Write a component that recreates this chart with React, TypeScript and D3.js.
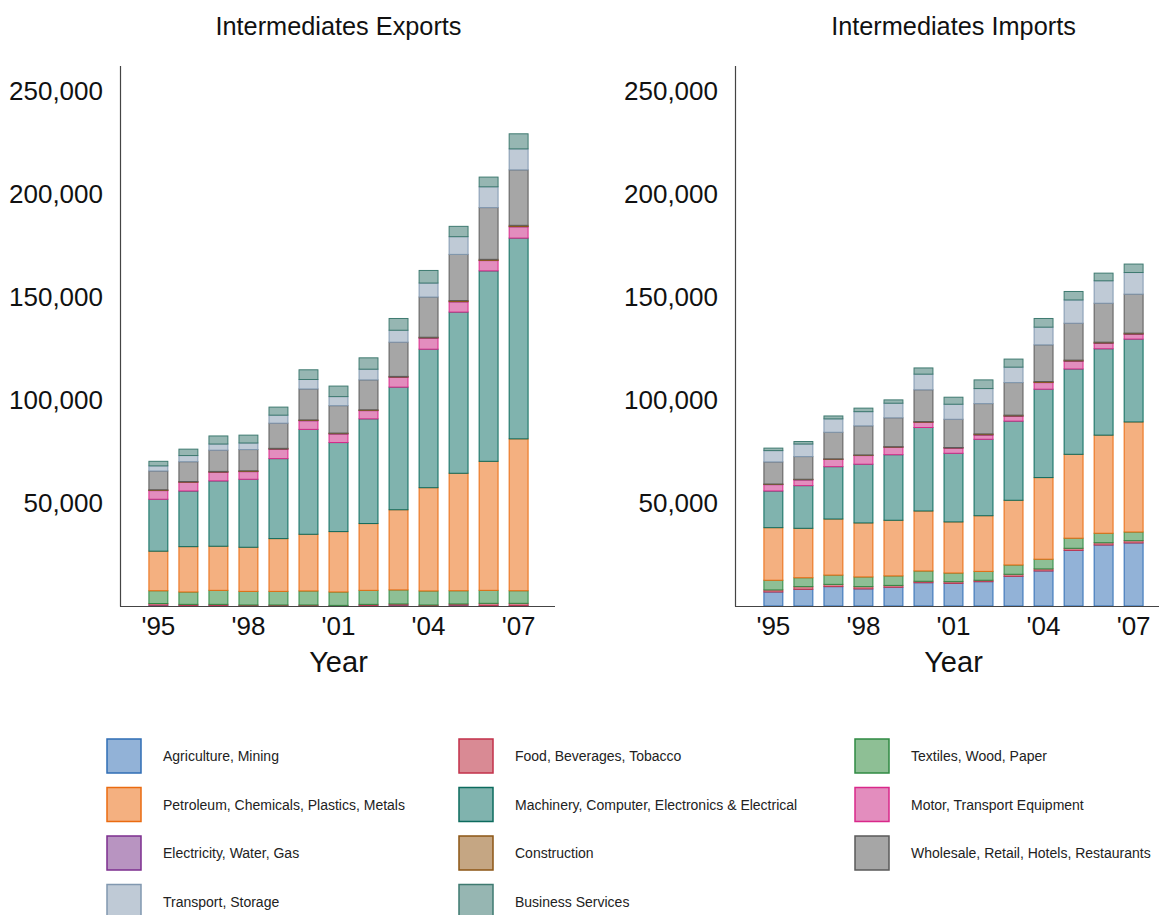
import * as d3 from 'd3'

const W = 1159
const H = 915

const YEARS = [1995, 1996, 1997, 1998, 1999, 2000, 2001, 2002, 2003, 2004, 2005, 2006, 2007]
const X_TICKS = [1995, 1998, 2001, 2004, 2007]
const Y_TICKS = [50, 100, 150, 200, 250] // thousands

const SECTORS = [
  'Agriculture, Mining',
  'Food, Beverages, Tobacco',
  'Textiles, Wood, Paper',
  'Petroleum, Chemicals, Plastics, Metals',
  'Machinery, Computer, Electronics & Electrical',
  'Motor, Transport Equipment',
  'Electricity, Water, Gas',
  'Construction',
  'Wholesale, Retail, Hotels, Restaurants',
  'Transport, Storage',
  'Business Services',
]
const FILLS = ['#92b2d7', '#d98a94', '#8ebf95', '#f4b080', '#80b3ae', '#e38dbe', '#b894c1', '#c5a683', '#a6a6a6', '#bfcad6', '#96b6b2']
const STROKES = ['#2f6db5', '#c2304a', '#2f8a43', '#ea6b10', '#0c6b5e', '#d9288a', '#7c2e8f', '#8c5514', '#5a5a5a', '#8198b0', '#3e7a70']

// exports, thousands
const expAgriculture = [0.4, 0.3, 0.3, 0.2, 0.2, 0.2, 0.1, 0.3, 0.4, 0.2, 0.4, 0.3, 0.3]
const expFood = [0.8, 0.5, 0.5, 0.3, 0.3, 0.3, 0.2, 0.5, 0.6, 0.3, 0.6, 1.0, 1.0]
const expTextiles = [6.2, 6.0, 6.8, 6.6, 6.6, 6.8, 6.5, 6.8, 6.8, 6.8, 6.4, 6.3, 6.1]
const expPetroleum = [19.2, 22.0, 21.4, 21.4, 25.6, 27.5, 29.3, 32.4, 38.9, 50.1, 57.0, 62.6, 73.7]
const expMachinery = [25.2, 27.0, 31.7, 33.0, 38.8, 50.9, 43.2, 50.8, 59.5, 67.2, 78.2, 92.4, 97.4]
const expMotor = [4.2, 4.2, 4.2, 3.7, 4.6, 4.2, 4.2, 4.0, 4.8, 5.4, 5.0, 5.0, 5.5]
const expElectricity = [0.1, 0.1, 0.1, 0.1, 0.1, 0.1, 0.1, 0.1, 0.1, 0.1, 0.1, 0.1, 0.1]
const expConstruction = [0.3, 0.3, 0.3, 0.3, 0.3, 0.3, 0.3, 0.3, 0.3, 0.3, 0.5, 0.5, 0.6]
const expWholesale = [9.1, 9.6, 10.3, 10.3, 12.2, 15.0, 13.3, 14.5, 16.6, 19.5, 22.4, 25.1, 26.9]
const expTransport = [2.5, 3.0, 3.0, 3.2, 3.9, 4.6, 4.4, 5.2, 5.8, 6.8, 8.6, 10.1, 10.2]
const expBusiness = [2.2, 3.1, 3.9, 3.8, 3.9, 4.7, 5.1, 5.5, 5.7, 6.1, 5.0, 4.7, 7.3]

// imports, thousands
const impAgriculture = [6.8, 8.1, 9.4, 8.3, 9.1, 11.3, 11.0, 11.8, 14.4, 17.0, 27.0, 29.6, 30.6]
const impFood = [1.0, 1.3, 1.1, 1.1, 0.9, 0.7, 0.8, 0.7, 1.0, 1.0, 1.0, 1.1, 1.1]
const impTextiles = [4.7, 4.3, 4.5, 4.7, 4.6, 5.0, 4.2, 4.3, 4.5, 4.7, 4.9, 4.6, 4.2]
const impPetroleum = [25.5, 24.0, 27.2, 26.2, 27.0, 29.1, 24.8, 27.0, 31.4, 39.6, 40.7, 47.6, 53.4]
const impMachinery = [17.8, 20.7, 25.4, 28.5, 31.8, 40.5, 33.3, 37.1, 38.4, 42.9, 41.4, 41.9, 40.2]
const impMotor = [3.1, 2.8, 3.5, 4.2, 3.6, 2.5, 2.5, 2.1, 2.4, 3.2, 3.8, 2.7, 2.4]
const impElectricity = [0.1, 0.1, 0.1, 0.1, 0.1, 0.1, 0.1, 0.1, 0.1, 0.1, 0.1, 0.1, 0.1]
const impConstruction = [0.2, 0.2, 0.2, 0.2, 0.2, 0.3, 0.2, 0.4, 0.4, 0.4, 0.4, 0.4, 0.4]
const impWholesale = [10.7, 11.0, 12.9, 14.1, 14.0, 15.4, 13.7, 14.7, 15.8, 17.8, 17.9, 18.9, 18.9]
const impTransport = [5.5, 6.1, 6.5, 6.9, 7.1, 7.6, 7.3, 7.3, 7.5, 8.6, 11.3, 10.9, 10.5]
const impBusiness = [1.2, 1.2, 1.4, 1.7, 1.6, 3.0, 3.4, 4.2, 3.9, 4.2, 4.1, 3.7, 4.1]

const EXPORTS = [expAgriculture, expFood, expTextiles, expPetroleum, expMachinery, expMotor,
  expElectricity, expConstruction, expWholesale, expTransport, expBusiness]
const IMPORTS = [impAgriculture, impFood, impTextiles, impPetroleum, impMachinery, impMotor,
  impElectricity, impConstruction, impWholesale, impTransport, impBusiness]

const FONT = 'Liberation Sans, Arial, Helvetica, sans-serif'
const PW = 435 // panel width
const Y0 = 606
const Y1 = 66

function Panel({ left, title, series }: { left: number; title: string; series: number[][] }) {
  const rows = YEARS.map((year, i) => {
    const r: Record<string, number> = { year }
    SECTORS.forEach((s, k) => { r[s] = series[k][i] })
    return r
  })
  const stacked = d3.stack<Record<string, number>>().keys(SECTORS)(rows)

  const x = d3.scaleBand<number>()
    .domain(YEARS)
    .range([left + 1, left + 1 + PW])
    .paddingInner(0.37)
    .paddingOuter(0.93)
  const y = d3.scaleLinear().domain([0, 262]).range([Y0, Y1])
  const bw = x.bandwidth()
  const fmt = d3.format(',')

  return (
    <g>
      <text x={left + PW / 2 + 1} y={35} textAnchor="middle" fontSize={25.3} fontFamily={FONT} fill="#111">
        {title}
      </text>

      {stacked.map((layer, k) => (
        <g key={SECTORS[k]}>
          {layer.map((d, i) => {
            const top = y(d[1])
            const h = Math.max(0, y(d[0]) - top)
            return (
              <rect
                key={YEARS[i]}
                x={x(YEARS[i])}
                y={top}
                width={bw}
                height={h}
                fill={FILLS[k]}
                stroke={STROKES[k]}
                strokeWidth={1}
              />
            )
          })}
        </g>
      ))}

      {Y_TICKS.map((t) => (
        <text
          key={t}
          x={left - 17}
          y={y(t) + 9}
          textAnchor="end"
          fontSize={26}
          fontFamily={FONT}
          fill="#111"
        >
          {fmt(t * 1000)}
        </text>
      ))}

      {X_TICKS.map((t) => (
        <text
          key={t}
          x={(x(t) ?? 0) + bw / 2}
          y={635}
          textAnchor="middle"
          fontSize={26}
          fontFamily={FONT}
          fill="#111"
        >
          {`'${String(t).slice(2)}`}
        </text>
      ))}

      <text x={left + PW / 2 + 1} y={672} textAnchor="middle" fontSize={29} fontFamily={FONT} fill="#111">
        Year
      </text>

      <line x1={left + 0.5} y1={Y1} x2={left + 0.5} y2={Y0 + 0.5} stroke="#444" strokeWidth={1.2} />
      <line x1={left} y1={Y0 + 0.5} x2={left + PW} y2={Y0 + 0.5} stroke="#444" strokeWidth={1.2} />
    </g>
  )
}

const LEGEND_COLS = [107, 459, 855]
const LEGEND_ROWS = [739, 787.5, 836, 884.5]

export default function App() {
  return (
    <>
      <style>{'body{margin:0}'}</style>
      <svg width={W} height={H} style={{ display: 'block', background: '#fff' }}>
        <Panel left={120} title="Intermediates Exports" series={EXPORTS} />
        <Panel left={735} title="Intermediates Imports" series={IMPORTS} />

        {SECTORS.map((s, k) => {
          const cx = LEGEND_COLS[k % 3]
          const cy = LEGEND_ROWS[Math.floor(k / 3)]
          return (
            <g key={s}>
              <rect x={cx} y={cy} width={34} height={34} fill={FILLS[k]} stroke={STROKES[k]} strokeWidth={1.5} />
              <text x={cx + 56} y={cy + 22} fontSize={14} fontFamily={FONT} fill="#222">
                {s}
              </text>
            </g>
          )
        })}
      </svg>
    </>
  )
}
